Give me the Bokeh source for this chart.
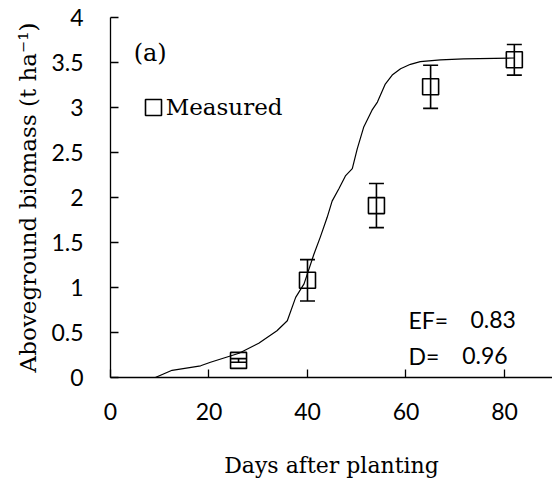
from bokeh.plotting import figure
from bokeh.models import (ColumnDataSource, Whisker, TeeHead, FixedTicker, Range1d,
                          CustomJSTickFormatter, Label, Legend, LegendItem)
from bokeh.embed import file_html
from bokeh.resources import INLINE

# Measured data (days after planting, biomass t/ha, std error)
meas_days = [26, 40, 54, 65, 82]
meas_biomass = [0.19, 1.08, 1.91, 3.23, 3.53]
meas_err = [0.02, 0.23, 0.245, 0.24, 0.17]

# Simulated curve
sim_days = [9.1, 12.5, 18.3, 20.3, 26.1, 30.1, 33.8, 35.9, 37.6, 39.3, 41.3, 42.6,
            44.0, 45.0, 46.4, 47.7, 49.1, 50.1, 51.4, 53.1, 54.2, 55.8, 57.2, 58.9,
            60.9, 62.9, 67.0, 71.7, 82.0]
sim_biomass = [0.0, 0.08, 0.13, 0.17, 0.27, 0.38, 0.52, 0.63, 0.89, 1.04, 1.37, 1.56,
               1.78, 1.96, 2.10, 2.24, 2.32, 2.54, 2.78, 2.97, 3.06, 3.26, 3.36, 3.43,
               3.48, 3.51, 3.53, 3.54, 3.55]

x_ticks = [0, 20, 40, 60, 80]
y_ticks = [0, 0.5, 1, 1.5, 2, 2.5, 3, 3.5, 4]

SERIF = "DejaVu Serif"
SANS = "Lato"
SANS_SIZE = "23px"

p = figure(width=552, height=486, output_backend="svg", toolbar_location=None,
           x_range=Range1d(0, 89.75), y_range=Range1d(0, 4),
           min_border_left=110, min_border_right=0, min_border_top=17,
           min_border_bottom=109)
p.outline_line_color = None
p.xgrid.visible = False
p.ygrid.visible = False
p.background_fill_color = "white"
p.border_fill_color = "white"

src = ColumnDataSource(dict(x=meas_days, y=meas_biomass,
                            upper=[b + e for b, e in zip(meas_biomass, meas_err)],
                            lower=[b - e for b, e in zip(meas_biomass, meas_err)]))

p.line(sim_days, sim_biomass, line_color="black", line_width=1.2)

wh = Whisker(base="x", upper="upper", lower="lower", source=src,
             line_color="black", line_width=1.6,
             upper_head=TeeHead(size=15, line_color="black", line_width=1.6),
             lower_head=TeeHead(size=15, line_color="black", line_width=1.6))
p.add_layout(wh)

sq = p.scatter("x", "y", source=src, marker="square", size=16,
               fill_color=None, line_color="black", line_width=1.6)

# legend swatch: open box glyph on the measured data, hidden in the plot itself
swatch = p.quad(left="x", right="x", top="y", bottom="y", source=src,
                fill_color=None, line_color="black", line_width=1.6)
swatch.visible = False

for ax in (p.xaxis[0], p.yaxis[0]):
    ax.axis_line_color = "black"
    ax.axis_line_width = 1.3
    ax.major_tick_in = 8
    ax.major_tick_out = 0
    ax.major_tick_line_width = 1.3
    ax.minor_tick_line_color = None
    ax.major_label_text_font = SANS
    ax.major_label_text_font_size = SANS_SIZE
    ax.major_label_text_color = "black"
    ax.axis_label_text_font = SERIF
    ax.axis_label_text_font_size = "22px"
    ax.axis_label_text_font_style = "normal"
    ax.axis_label_text_color = "black"

p.yaxis.axis_label_text_font_size = "23px"
p.xaxis.ticker = FixedTicker(ticks=x_ticks)
p.yaxis.ticker = FixedTicker(ticks=y_ticks)
p.yaxis.formatter = CustomJSTickFormatter(code="return tick.toString();")
p.xaxis.major_label_standoff = 25
p.yaxis.major_label_standoff = 27
p.xaxis.axis_label = "Days after planting"
p.yaxis.axis_label = "Aboveground biomass (t ha\u207b\u00b9)"
p.xaxis.axis_label_standoff = 30
p.yaxis.axis_label_standoff = 7

p.add_layout(Label(x=4.7, y=3.61, text="(a)", text_font=SERIF, text_font_size="24px",
                   text_baseline="middle", text_align="left", text_color="black"))

p.add_layout(Label(x=60.5, y=0.64, text="EF=", text_font=SANS, text_font_size=SANS_SIZE,
                   text_baseline="alphabetic", text_color="black"))
p.add_layout(Label(x=73.1, y=0.64, text="0.83", text_font=SANS, text_font_size=SANS_SIZE,
                   text_baseline="alphabetic", text_color="black"))
p.add_layout(Label(x=60.5, y=0.244, text="D=", text_font=SANS, text_font_size=SANS_SIZE,
                   text_baseline="alphabetic", text_color="black"))
p.add_layout(Label(x=71.4, y=0.244, text="0.96", text_font=SANS, text_font_size=SANS_SIZE,
                   text_baseline="alphabetic", text_color="black"))

legend = Legend(items=[LegendItem(label="Measured", renderers=[swatch])],
                location=(32.7, 257), padding=0, margin=0, spacing=0,
                glyph_width=20, glyph_height=20, label_height=20, label_standoff=3,
                border_line_color=None, background_fill_alpha=0,
                label_text_font=SERIF, label_text_font_size="23px",
                label_text_color="black", click_policy="none")
p.add_layout(legend)

open("out.html", "w").write(file_html(p, INLINE))
